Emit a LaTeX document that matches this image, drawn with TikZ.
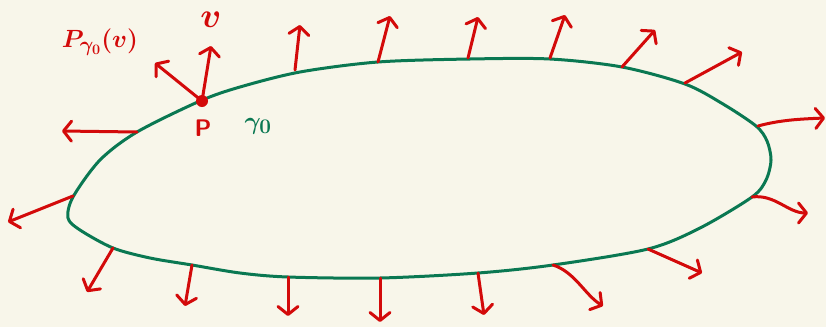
\documentclass[tikz,border=0pt]{standalone}
\usetikzlibrary{arrows.meta}
\definecolor{bg}{HTML}{F8F6EA}
\definecolor{gr}{HTML}{0A7852}
\definecolor{rd}{HTML}{D30A0A}
\begin{document}
\begin{tikzpicture}[x=1pt,y=-1pt,
  curve/.style={draw=gr,line width=3pt,line cap=round,line join=round},
  vec/.style={draw=rd,line width=3pt,line cap=round,line join=round,
    -{Straight Barb[length=8pt,width=20pt,line width=3pt,round]}},
  lab/.style={text=rd,inner sep=0pt},
  big/.style={font=\fontsize{30}{32}\selectfont\boldmath}]
\fill[bg] (0,0) rectangle (826,327);
\useasboundingbox (0,0) rectangle (826,327);
\draw[curve] plot[smooth cycle,tension=0.5] coordinates {
 (200,101) (137,132) (100,160) (73,197) (68,218) (80,230) (113,248)
 (150,258) (192,265) (240,273) (288,277) (380,278) (478,273)
 (553,265) (648,249) (700,228) (752,197) (766,180) (771,160) (767,141) (756,126)
 (723,104) (685,84) (622,67) (550,59) (470,59) (378,62) (300,72) (240,87)};
% vectors
\coordinate (P) at (202,101);
\draw[vec] (P) -- (211,46);
\draw[vec] (P) -- (155,63);
\draw[vec] (137,132) -- (62,131);
\draw[vec] (73,196) -- (8,222);
\draw[vec] (113,248) -- (87,292);
\draw[vec] (192,265) -- (185,306);
\draw[vec] (288,277) -- (288,316);
\draw[vec] (380,278) -- (380,322);
\draw[vec] (478,273) -- (484,315);
\draw[vec] (553,265) .. controls (575,272) and (585,295) .. (603,306);
\draw[vec] (648,249) -- (702,273);
\draw[vec] (752,197) .. controls (775,194) and (788,213) .. (808,213);
\draw[vec] (758,126) .. controls (780,120) and (800,119) .. (825,118);
\draw[vec] (685,83) -- (742,52);
\draw[vec] (622,67) -- (655,30);
\draw[vec] (550,58) -- (565,15);
\draw[vec] (468,58) -- (478,17);
\draw[vec] (378,62) -- (390,16);
\draw[vec] (295,70) -- (300,25);
\fill[rd] (P) circle (6);
\node[lab,big,scale=1.4] (v) at (211,20) {$v$};
\node[lab,big] (Pg) at (100,42) {$P_{\gamma_0}(v)$};
\node[lab,font=\fontsize{24}{26}\selectfont\bfseries\sffamily] (Pl) at (203,128) {P};
\node[text=gr,inner sep=0pt,big] (g) at (258,126) {$\gamma_0$};
\end{tikzpicture}
\end{document}
